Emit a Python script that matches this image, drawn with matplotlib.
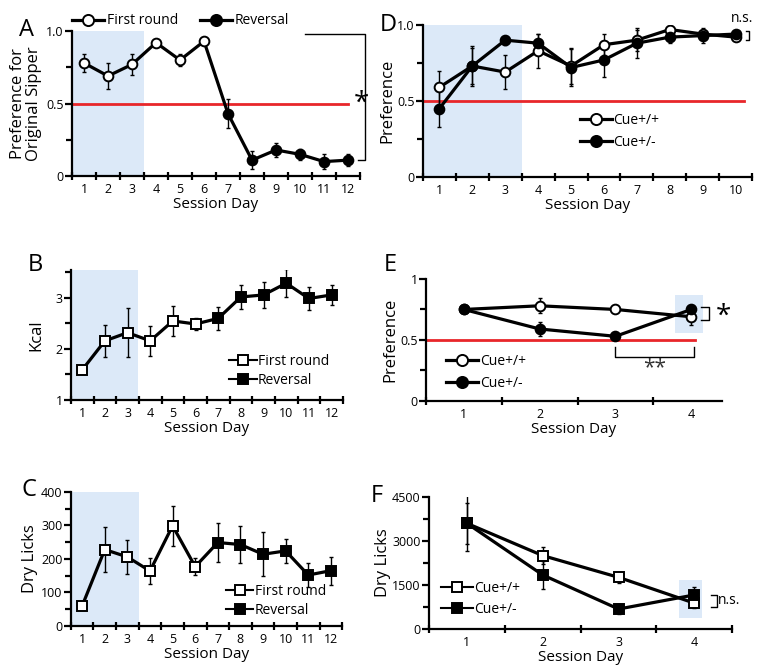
import numpy as np
import matplotlib.pyplot as plt
from matplotlib.ticker import FixedLocator, NullFormatter

plt.rcParams['font.family'] = ['Open Sans', 'DejaVu Sans']

# ---- data ----
days12 = np.arange(1, 13)
a_pref = [0.78, 0.69, 0.77, 0.92, 0.80, 0.93, 0.43, 0.11, 0.18, 0.15, 0.10, 0.11]
a_err = [0.06, 0.09, 0.07, 0.02, 0.04, 0.02, 0.10, 0.06, 0.05, 0.04, 0.05, 0.04]

b_kcal = [1.59, 2.16, 2.32, 2.16, 2.55, 2.49, 2.60, 3.02, 3.06, 3.29, 2.99, 3.06]
b_err = [0.07, 0.32, 0.48, 0.29, 0.29, 0.12, 0.22, 0.23, 0.25, 0.28, 0.23, 0.20]

c_licks = [60, 228, 206, 164, 299, 177, 249, 243, 214, 224, 152, 165]
c_err = [5, 68, 50, 38, 60, 25, 58, 56, 66, 35, 35, 42]

days10 = np.arange(1, 11)
d_pp = [0.59, 0.73, 0.69, 0.83, 0.73, 0.87, 0.90, 0.97, 0.94, 0.92]
d_pp_err = [0.11, 0.13, 0.11, 0.11, 0.12, 0.07, 0.07, 0.01, 0.03, 0.02]
d_pm = [0.45, 0.73, 0.90, 0.88, 0.72, 0.77, 0.88, 0.92, 0.93, 0.94]
d_pm_err = [0.12, 0.12, 0.03, 0.06, 0.12, 0.11, 0.10, 0.04, 0.05, 0.02]

days4 = np.arange(1, 5)
e_pp = [0.75, 0.78, 0.75, 0.69]
e_pp_err = [0.02, 0.06, 0.03, 0.07]
e_pm = [0.75, 0.59, 0.53, 0.75]
e_pm_err = [0.02, 0.06, 0.02, 0.04]

f_pp = [3600, 2500, 1760, 880]
f_pp_err = [950, 300, 190, 170]
f_pm = [3600, 1840, 680, 1160]
f_pm_err = [700, 470, 170, 280]

shade = '#dce9f8'
red = '#e8262a'


def style_axis(ax, xmax_day, xlim, ylim, yticks, ylabels, yminor):
    ax.spines[['top', 'right']].set_visible(False)
    for s in ['left', 'bottom']:
        ax.spines[s].set_linewidth(1.6)
    ax.set_xlim(*xlim)
    ax.set_ylim(*ylim)
    half = np.arange(0.5, xmax_day + 1, 1.0)
    ax.xaxis.set_major_locator(FixedLocator(half))
    ax.xaxis.set_major_formatter(NullFormatter())
    ax.xaxis.set_minor_locator(FixedLocator(np.arange(1, xmax_day + 1)))
    ax.set_xticklabels([str(i) for i in range(1, xmax_day + 1)], minor=True)
    ax.tick_params(axis='x', which='major', direction='inout', length=6, width=1.6)
    ax.tick_params(axis='x', which='minor', length=0, labelsize=9, pad=5)
    ax.set_yticks(yticks)
    ax.set_yticklabels(ylabels)
    ax.yaxis.set_minor_locator(FixedLocator(yminor))
    ax.tick_params(axis='y', which='major', length=5, width=1.6, labelsize=9, pad=1)
    ax.tick_params(axis='y', which='minor', length=4, width=1.6)
    ax.set_xlabel('Session Day', fontsize=11, labelpad=1)


def series(ax, x, y, err, marker, face, ms=7):
    ax.errorbar(x, y, yerr=err, fmt='none', ecolor='black', elinewidth=1.0,
                capsize=1.5, zorder=3)
    ax.plot(x, y, '-', color='black', lw=2.3, zorder=4)
    for xi, yi, fc in zip(x, y, face):
        ax.plot(xi, yi, marker, ms=ms, mfc=fc, mec='black', mew=1.4, zorder=5)


fig = plt.figure(figsize=(7.62, 6.67), dpi=100)

# ---- A ----
axA = fig.add_axes([0.0945, 0.736, 0.378, 0.2174])
axA.axvspan(0.5, 3.5, ymin=0, ymax=1.0, color=shade, lw=0, zorder=0)
axA.plot([0.5, 12], [0.5, 0.5], color=red, lw=2, zorder=2)
faces = ['white'] * 6 + ['black'] * 6
series(axA, days12, a_pref, a_err, 'o', faces)
style_axis(axA, 12, (0.5, 12.5), (0, 1.0), [0, 0.5, 1.0], ['0', '0.5', '1.0'], [0.25, 0.75])
axA.set_ylabel('Preference for\nOriginal Sipper', fontsize=12, labelpad=3, linespacing=1.0)
axA.plot([10.2, 12.7, 12.7, 12.4], [0.98, 0.98, 0.11, 0.11], color='black', lw=1.0,
         clip_on=False)
axA.text(12.55, 0.5, '*', fontsize=20, ha='center', va='center')
hA1, = axA.plot([], [], '-o', color='black', lw=2.3, ms=8, mfc='white', mew=1.4)
hA2, = axA.plot([], [], '-o', color='black', lw=2.3, ms=8, mfc='black', mew=1.4)
axA.legend([hA1, hA2], ['First round', 'Reversal'], ncol=2, frameon=False,
           loc='lower left', bbox_to_anchor=(-0.02, 0.98), fontsize=10,
           handlelength=2.3, handletextpad=0.2, columnspacing=1.6, borderaxespad=0)
fig.text(0.025, 0.955, 'A', fontsize=17, va='center')

# ---- B ----
axB = fig.add_axes([0.093, 0.4003, 0.357, 0.195])
axB.axvspan(0.5, 3.45, color=shade, lw=0, zorder=0)
series(axB, days12, b_kcal, b_err, 's', faces)
style_axis(axB, 12, (0.5, 12.5), (1, 3.55), [1, 2, 3], ['1', '2', '3'], [1.5, 2.5, 3.5])
axB.set_ylabel('Kcal', fontsize=12, labelpad=8)
hB1, = axB.plot([], [], '-s', color='black', lw=1.5, ms=7, mfc='white', mew=1.4)
hB2, = axB.plot([], [], '-s', color='black', lw=1.5, ms=7, mfc='black', mew=1.4)
axB.legend([hB1, hB2], ['First round', 'Reversal'], frameon=False,
           loc='lower left', bbox_to_anchor=(0.56, 0.05), fontsize=10,
           handlelength=2.0, handletextpad=0.1, labelspacing=0.3, borderaxespad=0)
fig.text(0.036, 0.603, 'B', fontsize=17, va='center')

# ---- C ----
axC = fig.add_axes([0.093, 0.0615, 0.356, 0.201])
axC.axvspan(0.5, 3.5, ymin=0, ymax=1.01, color=shade, lw=0, zorder=0)
series(axC, days12, c_licks, c_err, 's', faces)
style_axis(axC, 12, (0.5, 12.5), (0, 400), [0, 100, 200, 300, 400],
           ['0', '100', '200', '300', '400'], [50, 150, 250, 350])
axC.set_ylabel('Dry Licks', fontsize=12, labelpad=2)
axC.legend([hB1, hB2], ['First round', 'Reversal'], frameon=False,
           loc='lower left', bbox_to_anchor=(0.55, 0.02), fontsize=10,
           handlelength=2.0, handletextpad=0.1, labelspacing=0.3, borderaxespad=0)
fig.text(0.028, 0.265, 'C', fontsize=17, va='center')

# ---- D ----
axD = fig.add_axes([0.555, 0.7346, 0.432, 0.228])
axD.axvspan(0.5, 3.5, color=shade, lw=0, zorder=0)
axD.plot([0.5, 10.25], [0.5, 0.5], color=red, lw=2, zorder=2)
series(axD, days10, d_pp, d_pp_err, 'o', ['white'] * 10)
series(axD, days10, d_pm, d_pm_err, 'o', ['black'] * 10)
style_axis(axD, 10, (0.5, 10.5), (0, 1.0), [0, 0.5, 1.0], ['0', '0.5', '1.0'], [0.25, 0.75])
axD.set_ylabel('Preference', fontsize=12, labelpad=1)
axD.plot([10.3, 10.42, 10.42, 10.3], [0.96, 0.96, 0.90, 0.90], color='black', lw=1.0,
         clip_on=False)
axD.text(10.2, 1.04, 'n.s.', fontsize=10, ha='center', va='center')
hD1, = axD.plot([], [], '-o', color='black', lw=2.3, ms=8, mfc='white', mew=1.4)
hD2, = axD.plot([], [], '-o', color='black', lw=2.3, ms=8, mfc='black', mew=1.4)
axD.legend([hD1, hD2], ['Cue+/+', 'Cue+/-'], frameon=False,
           loc='lower left', bbox_to_anchor=(0.46, 0.14), fontsize=10,
           handlelength=2.3, handletextpad=0.1, labelspacing=0.5, borderaxespad=0)
fig.text(0.498, 0.962, 'D', fontsize=17, va='center')

# ---- E ----
axE = fig.add_axes([0.559, 0.3988, 0.388, 0.183])
axE.add_patch(plt.Rectangle((3.79, 0.556), 0.37, 0.314, color=shade, lw=0, zorder=0))
axE.plot([0.5, 4.05], [0.5, 0.5], color=red, lw=2, zorder=2)
series(axE, days4, e_pp, e_pp_err, 'o', ['white'] * 4)
series(axE, days4, e_pm, e_pm_err, 'o', ['black'] * 4)
style_axis(axE, 4, (0.5, 4.4), (0, 1.0), [0, 0.5, 1.0], ['0', '0.5', '1'], [0.25, 0.75])
axE.set_ylabel('Preference', fontsize=12, labelpad=1)
axE.plot([3.0, 3.0, 4.03, 4.03], [0.44, 0.36, 0.36, 0.44], color='black', lw=1.0)
axE.text(3.52, 0.27, '**', fontsize=15, ha='center', va='center', color='#333333')
axE.plot([4.13, 4.23, 4.23, 4.13], [0.77, 0.77, 0.665, 0.665], color='black', lw=1.0,
         clip_on=False)
axE.text(4.42, 0.69, '*', fontsize=20, ha='center', va='center')
axE.legend([hD1, hD2], ['Cue+/+', 'Cue+/-'], frameon=False,
           loc='lower left', bbox_to_anchor=(0.05, 0.04), fontsize=10,
           handlelength=2.3, handletextpad=0.1, labelspacing=0.5, borderaxespad=0)
fig.text(0.503, 0.603, 'E', fontsize=17, va='center')

# ---- F ----
axF = fig.add_axes([0.563, 0.057, 0.398, 0.198])
axF.add_patch(plt.Rectangle((3.8, 373), 0.3, 1300, color=shade, lw=0, zorder=0))
series(axF, days4, f_pp, f_pp_err, 's', ['white'] * 4)
series(axF, days4, f_pm, f_pm_err, 's', ['black'] * 4)
style_axis(axF, 4, (0.5, 4.5), (0, 4500), [0, 1500, 3000, 4500],
           ['0', '1500', '3000', '4500'], [750, 2250, 3750])
axF.set_ylabel('Dry Licks', fontsize=12, labelpad=1)
axF.plot([4.22, 4.3, 4.3, 4.22], [1160, 1160, 750, 750], color='black', lw=1.0,
         clip_on=False)
axF.text(4.31, 955, 'n.s.', fontsize=10, ha='left', va='center')
hF1, = axF.plot([], [], '-s', color='black', lw=1.5, ms=7, mfc='white', mew=1.4)
hF2, = axF.plot([], [], '-s', color='black', lw=1.5, ms=7, mfc='black', mew=1.4)
axF.legend([hF1, hF2], ['Cue+/+', 'Cue+/-'], frameon=False,
           loc='lower left', bbox_to_anchor=(0.02, 0.05), fontsize=10,
           handlelength=2.3, handletextpad=0.1, labelspacing=0.4, borderaxespad=0)
fig.text(0.486, 0.257, 'F', fontsize=17, va='center')

fig.savefig('out.png', dpi=100)
